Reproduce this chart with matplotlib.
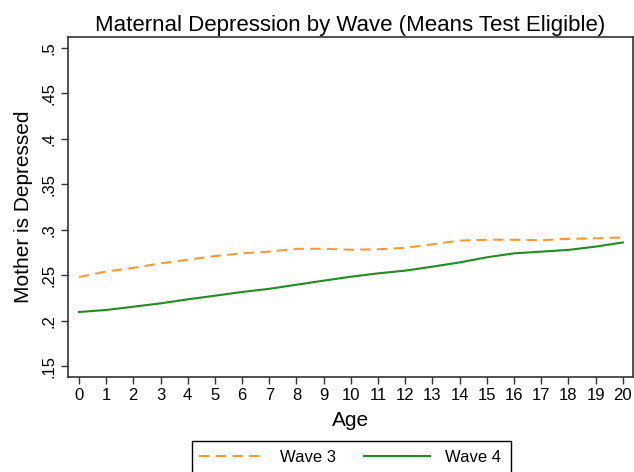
import matplotlib
matplotlib.use('Agg')
import matplotlib.pyplot as plt
from matplotlib.patches import Rectangle
import numpy as np

plt.rcParams['font.family'] = ['Liberation Sans', 'DejaVu Sans']

age = list(range(0, 21))
wave3 = [0.248, 0.254, 0.258, 0.263, 0.267, 0.271, 0.274, 0.276, 0.279, 0.279, 0.278,
         0.2785, 0.280, 0.284, 0.288, 0.289, 0.289, 0.2885, 0.290, 0.2905, 0.2915]
wave4 = [0.2095, 0.2117, 0.2153, 0.219, 0.2234, 0.2274, 0.2315, 0.235, 0.2395, 0.244, 0.2483,
         0.252, 0.255, 0.2594, 0.264, 0.2697, 0.274, 0.2759, 0.2778, 0.2814, 0.286]
yticks = [0.15, 0.2, 0.25, 0.3, 0.35, 0.4, 0.45, 0.5]
ylabels = ['.15', '.2', '.25', '.3', '.35', '.4', '.45', '.5']

W, H = 634, 472
fig = plt.figure(figsize=(W / 100, H / 100), dpi=100)
ax = fig.add_axes([0.1073, 0.2013, 0.891, 0.7203])

ax.plot(age, wave3, color='#ff9933', lw=1.5, dashes=(5, 3), label='Wave 3')
ax.plot(age, wave4, color='#228b22', lw=1.5, label='Wave 4')

ax.set_xlim(-0.4, 20.37)
ax.set_ylim(0.138, 0.512)
ax.set_xticks(age)
ax.set_yticks(yticks)
ax.set_yticklabels(ylabels, rotation=90, va='center')
ax.tick_params(labelsize=12, direction='out', length=5, width=1, color='#333333', pad=3)
for s in ax.spines.values():
    s.set_color('#333333')
    s.set_linewidth(1.2)

ax.set_xlabel('Age', fontsize=15, labelpad=6)
ax.set_ylabel('Mother is Depressed', fontsize=15, labelpad=6.5)
ax.set_title('Maternal Depression by Wave (Means Test Eligible)', fontsize=16, pad=4)

# legend box (runs off the bottom edge like the original)
fig.patches.append(Rectangle((192 / W, 1 - 485 / H), (511 - 192) / W, (485 - 440.7) / H,
                             transform=fig.transFigure, fill=False, edgecolor='black', lw=1.0))
leg = fig.legend(loc='center left', bbox_to_anchor=(192 / W, 1 - 457 / H),
                 ncol=2, fontsize=12, frameon=False, borderpad=0, borderaxespad=0.4,
                 columnspacing=1.7, handlelength=3.95, handletextpad=0.9)

fig.savefig('out.png', dpi=100)
